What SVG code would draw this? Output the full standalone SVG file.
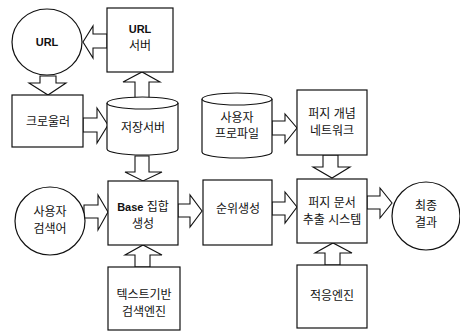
<svg xmlns="http://www.w3.org/2000/svg" width="460" height="331" viewBox="0 0 460 331">
<style>
.s{fill:#fff;stroke:#111;stroke-width:1.2}
.a{fill:#fff;stroke:#111;stroke-width:1.1;stroke-linejoin:miter}
text{font-family:"Liberation Sans","Noto Sans CJK KR",sans-serif;font-size:12px;fill:#111;text-anchor:middle}
.b{font-weight:bold;font-size:11px}
</style>
<rect width="460" height="331" fill="#fff"/>
<g id="connectors">
<polygon class="a" points="107,34 93,34 93,26 83,42 93,58 93,48 107,48"/>
<polygon class="a" points="40,76 56,76 56,83 66,83 48,95 29,83 40,83"/>
<polygon class="a" points="83,118 97,118 97,108 108,125 97,143 97,132 83,132"/>
<polygon class="a" points="135,99 135,82 123,82 142,72 160,82 149,82 149,99"/>
<polygon class="a" points="135,156 149,156 149,172 162,172 143,181 125,172 135,172"/>
<polygon class="a" points="84,205 98,205 98,195 108,212 98,230 98,218 84,218"/>
<polygon class="a" points="135,267 135,255 125,255 143,245 162,255 150,255 150,267"/>
<polygon class="a" points="178,204 190,204 190,195 202,211 190,227 190,217 178,217"/>
<polygon class="a" points="272,202 285,202 285,192 297,207 285,223 285,215 272,215"/>
<polygon class="a" points="367,196 380,196 380,188 392,203 380,218 380,209 367,209"/>
<polygon class="a" points="325,265 325,253 315,253 333,243 352,253 340,253 340,265"/>
<polygon class="a" points="272,121 285,121 285,114 297,128 285,143 285,135 272,135"/>
<polygon class="a" points="323,155 338,155 338,167 350,167 332,178 313,167 323,167"/>
</g>
<g id="url">
<ellipse class="s" cx="47" cy="42" rx="35" ry="33"/>
<text class="b" x="47" y="46">URL</text>
</g>
<g id="url-server">
<rect class="s" x="107" y="8" width="66" height="64"/>
<text class="b" x="140" y="33">URL</text>
<text x="140" y="50">서버</text>
</g>
<g id="crawler">
<rect class="s" x="12" y="95" width="71" height="52"/>
<text x="48" y="126">크로울러</text>
</g>
<g id="storage">
<path class="s" d="M107,103 V149 A35.5,6 0 0 0 178,149 V103"/>
<ellipse class="s" cx="142.5" cy="103" rx="35.5" ry="6"/>
<text x="143" y="132">저장서버</text>
</g>
<g id="profile">
<path class="s" d="M202,99 V152 A35,6 0 0 0 272,152 V99"/>
<ellipse class="s" cx="237" cy="99" rx="35" ry="6"/>
<text x="237" y="122">사용자</text>
<text x="237" y="138">프로파일</text>
</g>
<g id="fuzzy-network">
<rect class="s" x="297" y="90" width="70" height="65"/>
<text x="332" y="118">퍼지 개념</text>
<text x="332" y="135">네트워크</text>
</g>
<g id="user-query">
<ellipse class="s" cx="50" cy="221" rx="35" ry="34"/>
<text x="50" y="216">사용자</text>
<text x="50" y="233">검색어</text>
</g>
<g id="base-set">
<rect class="s" x="108" y="181" width="70" height="64"/>
<text x="143" y="211"><tspan class="b">Base</tspan> 집합</text>
<text x="143" y="228">생성</text>
</g>
<g id="ranking">
<rect class="s" x="203" y="180" width="69" height="65"/>
<text x="238" y="213">순위생성</text>
</g>
<g id="fuzzy-doc">
<rect class="s" x="297" y="179" width="70" height="64"/>
<text x="332" y="207">퍼지 문서</text>
<text x="332" y="224">추출 시스템</text>
</g>
<g id="final">
<ellipse class="s" cx="426" cy="216" rx="34" ry="34"/>
<text x="426" y="210">최종</text>
<text x="426" y="227">결과</text>
</g>
<g id="text-engine">
<rect class="s" x="108" y="267" width="72" height="63"/>
<text x="144" y="299">텍스트기반</text>
<text x="144" y="316">검색엔진</text>
</g>
<g id="adaptive">
<rect class="s" x="297" y="265" width="70" height="63"/>
<text x="332" y="300">적응엔진</text>
</g>
</svg>
